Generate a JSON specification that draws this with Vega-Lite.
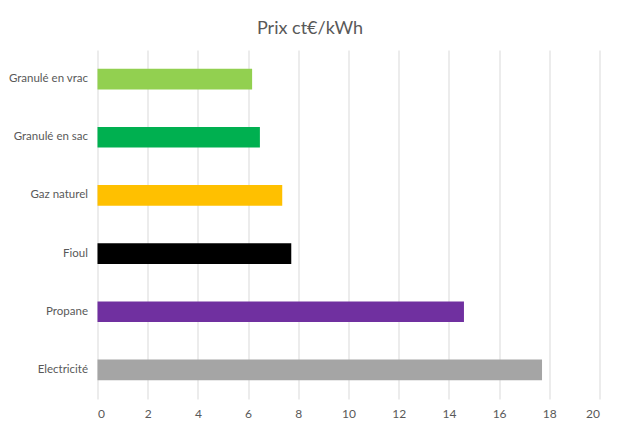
{
  "$schema": "https://vega.github.io/schema/vega-lite/v6.json",
  "autosize": "none",
  "width": 502,
  "height": 349,
  "padding": {"left": 97.5, "top": 50, "right": 20.5, "bottom": 31},
  "background": "white",
  "title": {
    "text": "Prix ct€/kWh",
    "anchor": "middle",
    "dx": -38.5,
    "offset": 12,
    "font": "Lato",
    "fontSize": 18,
    "fontWeight": "normal",
    "color": "#595959"
  },
  "data": {
    "values": [
      {"energie": "Granulé en vrac", "prix": 6.16, "couleur": "#92d050"},
      {"energie": "Granulé en sac", "prix": 6.47, "couleur": "#00b050"},
      {"energie": "Gaz naturel", "prix": 7.36, "couleur": "#ffc000"},
      {"energie": "Fioul", "prix": 7.72, "couleur": "#000000"},
      {"energie": "Propane", "prix": 14.6, "couleur": "#7030a0"},
      {"energie": "Electricité", "prix": 17.71, "couleur": "#a5a5a5"}
    ]
  },
  "mark": {"type": "bar"},
  "encoding": {
    "y": {
      "field": "energie",
      "type": "nominal",
      "sort": null,
      "title": null,
      "scale": {"paddingInner": 0.645, "paddingOuter": 0.3225},
      "axis": {
        "domain": false,
        "ticks": false,
        "labelPadding": 10,
        "labelFont": "Lato",
        "labelFontSize": 11.5,
        "labelColor": "#595959"
      }
    },
    "x": {
      "field": "prix",
      "type": "quantitative",
      "title": null,
      "scale": {"domain": [0, 20], "nice": false},
      "axis": {
        "values": [0, 2, 4, 6, 8, 10, 12, 14, 16, 18, 20],
        "domain": false,
        "ticks": false,
        "grid": true,
        "gridColor": "#d9d9d9",
        "gridWidth": 1,
        "labelPadding": 9,
        "labelFont": "Lato",
        "labelFontSize": 12,
        "labelColor": "#595959"
      }
    },
    "color": {"field": "couleur", "type": "nominal", "scale": null, "legend": null}
  },
  "config": {"view": {"stroke": null}}
}
